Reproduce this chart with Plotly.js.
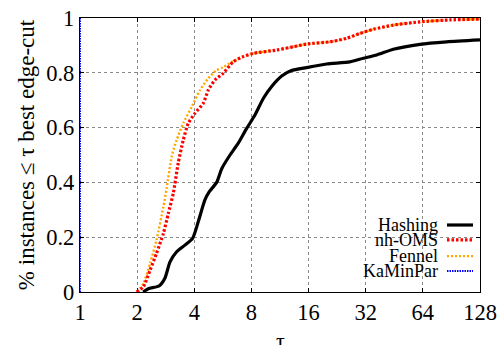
<!DOCTYPE html>
<html>
<head>
<meta charset="utf-8">
<script src="https://cdn.plot.ly/plotly-3.0.1.min.js"></script>
</head>
<body style="margin:0;background:#fff">
<div id="chart"></div>
<script>
// ---- data ----
const seriesNames = ['Hashing', 'nh-OMS', 'Fennel', 'KaMinPar'];

const hashingTau = [2.15, 2.29, 2.62, 2.80, 2.98, 3.23, 3.57, 3.92, 4.2, 4.55, 4.8, 5.25, 5.58, 6.17, 6.82, 7.55, 8.35, 9.25, 10.2, 11.55, 13.0, 15.6, 19.9, 26.4, 31.1, 36.6, 44.7, 61.8, 85.4, 128];
const hashingY   = [0, 0.012, 0.023, 0.05, 0.11, 0.147, 0.171, 0.196, 0.257, 0.336, 0.366, 0.40, 0.45, 0.50, 0.543, 0.597, 0.646, 0.707, 0.749, 0.788, 0.808, 0.819, 0.832, 0.840, 0.853, 0.865, 0.886, 0.904, 0.913, 0.920];

const nhomsTau = [1.99, 2.16, 2.34, 2.53, 2.75, 2.92, 3.10, 3.29, 3.50, 3.72, 4.03, 4.46, 4.74, 5.14, 5.68, 6.41, 7.25, 8.18, 10.86, 13.3, 15.6, 20.7, 25.4, 29.9, 35.1, 44.7, 61.8, 89, 128];
const nhomsY   = [0, 0.02, 0.08, 0.141, 0.214, 0.287, 0.36, 0.47, 0.555, 0.616, 0.652, 0.689, 0.737, 0.774, 0.798, 0.840, 0.859, 0.871, 0.883, 0.895, 0.905, 0.913, 0.926, 0.944, 0.959, 0.974, 0.986, 0.993, 0.996];

const fennelTau = [2.0, 2.16, 2.34, 2.53, 2.75, 2.86, 3.04, 3.23, 3.50, 3.88, 4.29, 4.74, 5.25, 5.68, 6.41, 7.25, 8.18, 10.86, 13.3, 15.6, 20.7, 25.4, 29.9, 35.1, 44.7, 61.8, 89, 128];
const fennelY   = [0, 0.032, 0.105, 0.19, 0.311, 0.378, 0.494, 0.555, 0.616, 0.676, 0.737, 0.78, 0.81, 0.82, 0.842, 0.860, 0.871, 0.883, 0.895, 0.905, 0.913, 0.926, 0.944, 0.959, 0.974, 0.986, 0.993, 0.996];

const kaminparTau = [1, 1];
const kaminparY   = [0, 1];

const xTickVals = [1, 2, 4, 8, 16, 32, 64, 128];
const xTickText = ['1', '2', '4', '8', '16', '32', '64', '128'];
const yTickVals = [0, 0.2, 0.4, 0.6, 0.8, 1];
const yTickText = ['0', '0.2', '0.4', '0.6', '0.8', '1'];

// ---- styles ----
const styles = [
  {color: '#000000', width: 3.2, dash: 'solid'},
  {color: '#ff0000', width: 3.2, dash: '2.5px,2px'},
  {color: '#ffa500', width: 2.4, dash: '2px,2px'},
  {color: '#0000ff', width: 2, dash: '1.5px,1px'}
];
const xs = [hashingTau, nhomsTau, fennelTau, kaminparTau];
const ys = [hashingY, nhomsY, fennelY, kaminparY];

const SERIF = 'Liberation Serif';

const order = [0, 2, 1, 3];
const traces = order.map(i => ({
  type: 'scatter', mode: 'lines', name: seriesNames[i],
  x: xs[i], y: ys[i],
  line: {color: styles[i].color, width: styles[i].width, dash: styles[i].dash, shape: 'spline', smoothing: 0.6},
  hoverinfo: 'skip'
}));

// legend built as annotations + sample shapes
const legY = [0.2445, 0.190, 0.131, 0.0766];
const annotations = seriesNames.map((n, i) => ({
  xref: 'paper', yref: 'paper', x: 0.9, y: legY[i], xanchor: 'right', yanchor: 'middle',
  text: n, showarrow: false, font: {family: SERIF, size: 18, color: '#000'}
}));
// x-axis title drawn as an annotation so it can sit partly below the frame
annotations.push({
  xref: 'paper', yref: 'paper', x: 0.5, y: -0.125, xanchor: 'center', yanchor: 'top',
  text: 'τ', showarrow: false, font: {family: SERIF, size: 22, color: '#000'}
});
const shapes = seriesNames.map((n, i) => ({
  type: 'line', xref: 'paper', yref: 'paper', x0: 0.9175, x1: 0.9825, y0: legY[i], y1: legY[i],
  line: {color: styles[i].color, width: styles[i].width, dash: styles[i].dash}
}));

const layout = {
  width: 503, height: 345,
  margin: {l: 80, r: 23, t: 18, b: 53},
  paper_bgcolor: '#fff', plot_bgcolor: '#fff',
  showlegend: false,
  font: {family: SERIF, size: 22, color: '#000'},
  xaxis: {
    type: 'log', range: [0, Math.log10(128)],
    tickvals: xTickVals, ticktext: xTickText,
    ticks: 'inside', ticklen: 4, tickcolor: '#000', tickwidth: 1,
    showline: true, linecolor: '#000', linewidth: 1.3, mirror: 'allticks',
    showgrid: true, gridcolor: '#8a8a8a', griddash: 'dot', gridwidth: 1,
    zeroline: false, layer: 'below traces',
    tickfont: {family: SERIF, size: 22.5, color: '#000'}
  },
  yaxis: {
    range: [0, 1],
    tickvals: yTickVals, ticktext: yTickText,
    ticks: 'inside', ticklen: 4, tickcolor: '#000', tickwidth: 1,
    showline: true, linecolor: '#000', linewidth: 1.3, mirror: 'allticks',
    showgrid: true, gridcolor: '#8a8a8a', griddash: 'dot', gridwidth: 1,
    zeroline: false, layer: 'below traces',
    tickfont: {family: SERIF, size: 22.5, color: '#000'},
    title: {text: '% instances ≤ τ best edge-cut', font: {family: SERIF, size: 23, color: '#000'}, standoff: 5}
  },
  annotations: annotations,
  shapes: shapes
};

Plotly.newPlot('chart', traces, layout, {displayModeBar: false});
</script>
</body>
</html>
